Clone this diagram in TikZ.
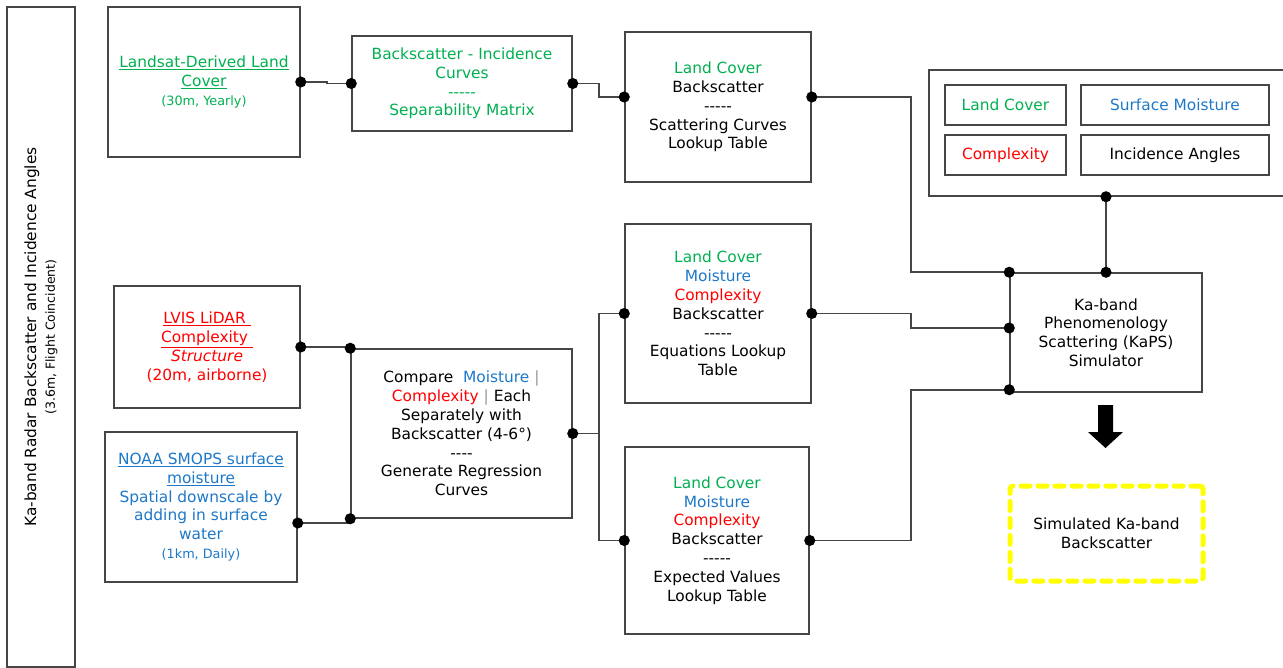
\documentclass[tikz,border=0pt]{standalone}
\usepackage{fontspec}
\setmainfont{DejaVu Sans}[Ligatures=TeXOff]
\usepackage{tikz}
\usetikzlibrary{positioning, arrows.meta}

\definecolor{lcgreen}{RGB}{0,176,80}
\definecolor{moistblue}{RGB}{30,120,200}
\definecolor{cplxred}{RGB}{255,0,0}
\definecolor{linegray}{RGB}{70,70,70}
\definecolor{bargray}{RGB}{150,150,150}
\definecolor{simyellow}{RGB}{255,255,0}

\begin{document}
\begin{tikzpicture}[x=1pt, y=-1pt, font=\fontsize{15.4}{18.8}\selectfont,
    >={Circle[length=11pt, color=black]}]
    % Stili
    \tikzstyle{block} = [draw=linegray, line width=1.5pt, rectangle, align=center, inner sep=0pt]
    \tikzstyle{tag} = [block, minimum height=40pt]
    \tikzstyle{result} = [draw=simyellow, line width=5pt, dash pattern=on 9pt off 8pt, line cap=round, rounded corners=3pt, align=center, minimum width=193pt, minimum height=95pt]
    \tikzstyle{link} = [draw=linegray, line width=1.5pt, <->, shorten <=-5.5pt, shorten >=-5.5pt]

    \useasboundingbox (0,0) rectangle (1283,668);

    % Ingressi
    \node [block, rotate=90, minimum width=660pt, minimum height=68pt] (radar) at (41,337)
        {Ka-band Radar Backscatter and Incidence Angles\\{\fontsize{12.5}{14}\selectfont (3.6m, Flight Coincident)}};
    \node [block, text=lcgreen, minimum width=192pt, minimum height=150pt] (landsat) at (204,82)
        {\underline{Landsat-Derived Land}\\\underline{Cover}\\{\fontsize{12.8}{14}\selectfont (30m, Yearly)}};
    \node [block, text=cplxred, minimum width=186pt, minimum height=122pt] (lvis) at (207,347)
        {\underline{LVIS LiDAR~}\\\underline{Complexity~}\\\textit{Structure}\\(20m, airborne)};
    \node [block, text=moistblue, minimum width=192pt, minimum height=150pt] (noaa) at (201,507)
        {\underline{NOAA SMOPS surface}\\\underline{moisture}\\Spatial downscale by\\adding in surface\\water\\{\fontsize{12.8}{14}\selectfont (1km, Daily)}};

    % Elaborazione
    \node [block, text=lcgreen, minimum width=220pt, minimum height=95pt] (bic) at (462,83.5)
        {Backscatter - Incidence\\Curves\\-----\\Separability Matrix};
    \node [block, minimum width=221pt, minimum height=169pt] (cmp) at (461.5,433.5)
        {Compare\ \ {\color{moistblue}Moisture} {\color{bargray}|}\\{\color{cplxred}Complexity} {\color{bargray}|} Each\\Separately with\\Backscatter (4-6°)\\----\\Generate Regression\\Curves};

    % Tabelle
    \node [block, minimum width=186pt, minimum height=150pt] (lcscat) at (718,107)
        {{\color{lcgreen}Land Cover}\\Backscatter\\-----\\Scattering Curves\\Lookup Table};
    \node [block, minimum width=186pt, minimum height=179pt] (lceq) at (718,313.5)
        {{\color{lcgreen}Land Cover}\\{\color{moistblue}Moisture}\\{\color{cplxred}Complexity}\\Backscatter\\-----\\Equations Lookup\\Table};
    \node [block, minimum width=184pt, minimum height=187pt] (lcexp) at (717,540.5)
        {{\color{lcgreen}Land Cover}\\{\color{moistblue}Moisture}\\{\color{cplxred}Complexity}\\Backscatter\\-----\\Expected Values\\Lookup Table};

    % Legenda
    \node [block, minimum width=361pt, minimum height=126pt] (legend) at (1109.5,133) {};
    \node [tag, text=lcgreen, minimum width=121pt] (leglc) at (1005.5,105) {Land Cover};
    \node [tag, text=moistblue, minimum width=188pt] (legmoist) at (1175,105) {Surface Moisture};
    \node [tag, text=cplxred, minimum width=121pt] (legcplx) at (1005.5,155) {Complexity};
    \node [tag, minimum width=188pt] (legangle) at (1175,155) {Incidence Angles};

    % Simulatore
    \node [block, minimum width=192pt, minimum height=119pt] (kaps) at (1106,332.5)
        {Ka-band\\Phenomenology\\Scattering (KaPS)\\Simulator};
    \node [result] (sim) at (1106.5,533.5) {Simulated Ka-band\\Backscatter};
    \fill (1098,405) -- (1113,405) -- (1113,432) -- (1123,432) -- (1105.5,448)
        -- (1088,432) -- (1098,432) -- cycle;

    % Collegamenti
    \draw [link] (landsat.east) -- ++(26,0) |- (bic.west);
    \draw [link] (bic.east) -- ++(26,0) |- ([yshift=10pt]lcscat.west);
    \draw [link] ([yshift=10pt]lcscat.east) -- ++(99,0) |- (kaps.north west);
    \draw [link] (kaps.north) -- (kaps.north |- legend.south);
    \draw [link] (lceq.east) -- ++(99,0) |- ([yshift=4.5pt]kaps.west);
    \draw [link] (lcexp.east) -- ++(101,0) |- ([yshift=3pt]kaps.south west);
    \draw [link] (lvis.east) -| (cmp.north west);
    \draw [link] ([yshift=-16pt]noaa.east) -| (cmp.south west);
    \path (cmp.east) ++(26,0) coordinate (split);
    \draw [link, <-, shorten >=0pt] (cmp.east) -- (split);
    \draw [link] (lceq.west) -| (split) |- (lcexp.west);
\end{tikzpicture}
\end{document}
